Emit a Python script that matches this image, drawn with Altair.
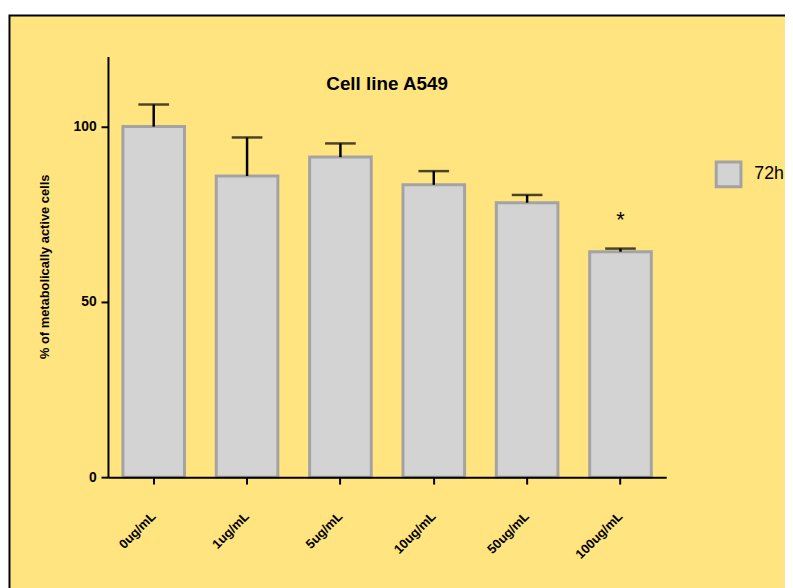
import altair as alt
import pandas as pd

categories = ["0ug/mL", "1ug/mL", "5ug/mL", "10ug/mL", "50ug/mL", "100ug/mL"]
means = [100.0, 85.9, 91.3, 83.4, 78.3, 64.3]
upper = [106.3, 96.9, 95.2, 87.3, 80.5, 65.2]
marks_sig = ["", "", "", "", "", "*"]
series = ["72h"] * 6

df = pd.DataFrame({
    "dose": categories,
    "mean": means,
    "upper": upper,
    "sig": marks_sig,
    "group": series,
})

FONT = "Liberation Sans, Arial, sans-serif"
YELLOW = "#FFE47F"
BAR_FILL = "#D3D3D3"
BAR_STROKE = "#A3A3A3"

x_enc = alt.X(
    "dose:N",
    sort=categories,
    scale=alt.Scale(paddingInner=0.34, paddingOuter=0.16),
    axis=alt.Axis(
        title=None,
        zindex=2,
        labelAngle=-45,
        labelAlign="right",
        labelBaseline="middle",
        labelPadding=30,
        labelFont=FONT,
        labelFontSize=13,
        labelFontWeight="bold",
        labelColor="black",
        domainColor="black",
        domainWidth=2,
        tickColor="black",
        tickWidth=2,
        tickSize=7,
    ),
)

y_scale = alt.Scale(domain=[0, 120], nice=False)

frame = alt.Chart(alt.Data(values=[{"a": 1}])).mark_rect(
    fill=YELLOW, stroke="black", strokeWidth=2
).encode(
    x=alt.value(-99.5), y=alt.value(-41.5), x2=alt.value(900), y2=alt.value(700)
)

bars = alt.Chart(df).mark_bar(stroke=BAR_STROKE, strokeWidth=3).encode(
    x=x_enc,
    y=alt.Y(
        "mean:Q",
        scale=y_scale,
        axis=alt.Axis(
            title="% of metabolically active cells",
            zindex=2,
            values=[0, 50, 100],
            grid=False,
            labelFont=FONT,
            labelFontSize=14,
            labelFontWeight="bold",
            labelColor="black",
            labelPadding=5,
            domainColor="black",
            domainWidth=2,
            tickColor="black",
            tickWidth=2,
            tickSize=7,
            titleFont=FONT,
            titleFontSize=13,
            titleFontWeight="bold",
            titleColor="black",
            titleX=-64,
            titleY=212,
            titleAngle=-90,
            titleAlign="center",
            titleBaseline="middle",
        ),
    ),
    color=alt.Color(
        "group:N",
        scale=alt.Scale(domain=["72h"], range=[BAR_FILL]),
        legend=alt.Legend(
            title=None,
            orient="none",
            legendX=613,
            legendY=105,
            symbolType="square",
            symbolSize=625,
            symbolStrokeColor=BAR_STROKE,
            symbolStrokeWidth=3,
            symbolFillColor=BAR_FILL,
            labelFont=FONT,
            labelFontSize=18,
            labelColor="black",
            labelOffset=12,
        ),
    ),
)

err_line = alt.Chart(df).mark_rule(color="black", strokeWidth=2.5).encode(
    x=alt.X("dose:N", sort=categories),
    y=alt.Y("mean:Q", scale=y_scale),
    y2="upper:Q",
)

err_cap = alt.Chart(df).mark_tick(color="black", thickness=2.5, size=31).encode(
    x=alt.X("dose:N", sort=categories),
    y=alt.Y("upper:Q", scale=y_scale),
)

stars = alt.Chart(df).mark_text(
    font=FONT, fontSize=22, color="black", baseline="alphabetic", dy=-22
).encode(
    x=alt.X("dose:N", sort=categories),
    y=alt.Y("upper:Q", scale=y_scale),
    text="sig:N",
)

chart = alt.layer(frame, bars, err_line, err_cap, stars).properties(
    width=564,
    height=425,
    padding={"left": 101, "top": 46, "right": 120, "bottom": 109},
    autosize=alt.AutoSizeParams(type="none"),
    background="white",
    title=alt.TitleParams(
        "Cell line A549",
        offset=-80,
        font=FONT,
        fontSize=19,
        fontWeight="bold",
        color="black",
        anchor="middle",
    ),
).configure_view(strokeWidth=0)

chart.save("out.html", embed_options={"renderer": "svg", "actions": False})
